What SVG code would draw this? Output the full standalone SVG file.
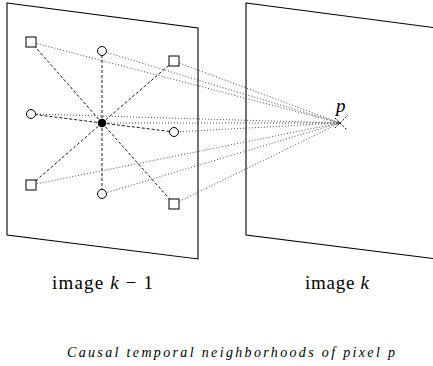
<svg xmlns="http://www.w3.org/2000/svg" width="433" height="366" viewBox="0 0 433 366">
<style>
.frame{fill:none;stroke:#000;stroke-width:1.1}
.dash{stroke:#000;stroke-width:0.9;stroke-dasharray:3,2;fill:none}
.dot{stroke:#222;stroke-width:0.8;stroke-dasharray:1,2;fill:none}
.sq{fill:#fff;stroke:#000;stroke-width:1}
.ci{fill:#fff;stroke:#000;stroke-width:1}
.lbl{font-family:"Liberation Serif",serif;font-size:19px;fill:#000}
.cap{font-family:"Liberation Serif",serif;font-size:14px;font-style:italic;fill:#000}
</style>
<g id="image-k-1"><polygon class="frame" points="7,3 198,28 198,259 7,235"/></g>
<g id="image-k"><polygon class="frame" points="246,3 437,28 437,259 246,235"/></g>
<g id="connectors">
<line class="dot" x1="31" y1="42" x2="340" y2="123"/>
<line class="dot" x1="102" y1="51" x2="340" y2="123"/>
<line class="dot" x1="174" y1="61" x2="340" y2="123"/>
<line class="dot" x1="31" y1="114" x2="340" y2="123"/>
<line class="dot" x1="102" y1="123" x2="340" y2="123"/>
<line class="dot" x1="174" y1="132" x2="340" y2="123"/>
<line class="dot" x1="31" y1="185" x2="340" y2="123"/>
<line class="dot" x1="102" y1="194" x2="340" y2="123"/>
<line class="dot" x1="174" y1="204" x2="340" y2="123"/>
<line class="dash" x1="102" y1="123" x2="31" y2="42"/>
<line class="dash" x1="102" y1="123" x2="102" y2="51"/>
<line class="dash" x1="102" y1="123" x2="174" y2="61"/>
<line class="dash" x1="102" y1="123" x2="31" y2="114"/>
<line class="dash" x1="102" y1="123" x2="174" y2="132"/>
<line class="dash" x1="102" y1="123" x2="31" y2="185"/>
<line class="dash" x1="102" y1="123" x2="102" y2="194"/>
<line class="dash" x1="102" y1="123" x2="174" y2="204"/>
<line class="dash" x1="335" y1="118" x2="347" y2="130" style="stroke-dasharray:2,1.5"/>
<line class="dash" x1="335" y1="128" x2="348" y2="115" style="stroke-dasharray:2,1.5"/>
</g>
<g id="n-tl"><rect class="sq" x="26" y="37" width="10" height="10"/></g>
<g id="n-t"><circle class="ci" cx="102" cy="51" r="4.5"/></g>
<g id="n-tr"><rect class="sq" x="169" y="56" width="10" height="10"/></g>
<g id="n-l"><circle class="ci" cx="31" cy="114" r="4.5"/></g>
<g id="n-c"><circle cx="102" cy="123" r="4.3" fill="#000"/></g>
<g id="n-r"><circle class="ci" cx="174" cy="132" r="4.5"/></g>
<g id="n-bl"><rect class="sq" x="26" y="180" width="10" height="10"/></g>
<g id="n-b"><circle class="ci" cx="102" cy="194" r="4.5"/></g>
<g id="n-br"><rect class="sq" x="169" y="199" width="10" height="10"/></g>
<g id="p"><text class="lbl" x="336" y="112" font-size="17" font-style="italic">p</text></g>
<text class="lbl" x="52" y="289" textLength="101" lengthAdjust="spacing">image <tspan font-style="italic">k</tspan> − 1</text>
<text class="lbl" x="305" y="289" textLength="64" lengthAdjust="spacing">image <tspan font-style="italic">k</tspan></text>
<text class="cap" x="67" y="357" textLength="328" lengthAdjust="spacing">Causal temporal neighborhoods of pixel p</text>
</svg>
